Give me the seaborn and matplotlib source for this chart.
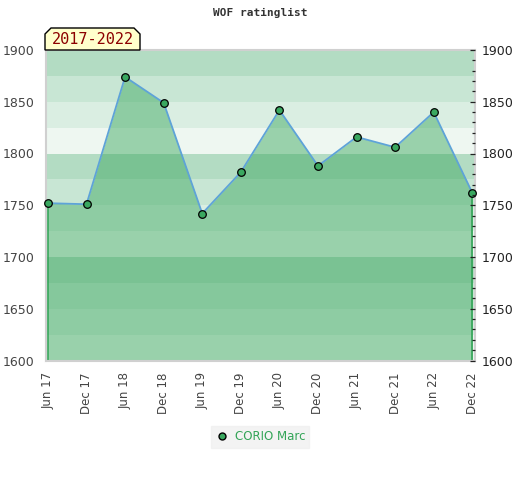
import matplotlib
matplotlib.use("Agg")
import matplotlib.pyplot as plt
import seaborn as sns
import pandas as pd
import numpy as np
from matplotlib.patches import Polygon
from matplotlib.lines import Line2D
from matplotlib.ticker import MultipleLocator

periods = ["Jun 17", "Dec 17", "Jun 18", "Dec 18", "Jun 19", "Dec 19",
           "Jun 20", "Dec 20", "Jun 21", "Dec 21", "Jun 22", "Dec 22"]
ratings = [1752, 1751, 1874, 1849, 1742, 1782, 1842, 1788, 1816, 1806, 1840, 1762]
player = "CORIO Marc"
title = "WOF ratinglist"
range_label = "2017-2022"

sns.set_theme(style="white")
plt.rcParams['font.family'] = ['DejaVu Sans']

df = pd.DataFrame({"idx": np.arange(len(periods)), "rating": ratings})

fig = plt.figure(figsize=(5.2, 4.8), dpi=100)
ax = fig.add_axes([46/520, 1 - 360.5/480, (475-46)/520, (360.5-50)/480])

band_colors = ["#b3dcc3", "#c8e6d4", "#daeee2", "#eef7f1"]
for i, lo in enumerate(range(1875, 1599, -25)):
    ax.axhspan(lo, lo + 25, color=band_colors[i % 4], lw=0, zorder=0)

ax.fill_between(df["idx"], df["rating"], 1600, color=(59/255, 167/255, 94/255),
                alpha=0.475, lw=0, zorder=1)
ax.vlines([df["idx"].iloc[0], df["idx"].iloc[-1]], 1600,
          [df["rating"].iloc[0], df["rating"].iloc[-1]], color="#33a457", lw=1.2, zorder=2)
sns.lineplot(data=df, x="idx", y="rating", ax=ax, color="#5ea3d8", lw=1.3, zorder=3,
             legend=False)
sns.scatterplot(data=df, x="idx", y="rating", ax=ax, color="#3aa860", edgecolor="black",
                linewidth=0.9, s=30, zorder=4, legend=False, clip_on=False)

ax.set_xlim(-0.05, len(periods) - 1 + 0.07)
ax.set_ylim(1600, 1900)
ax.set_xticks(df["idx"])
ax.set_xticklabels(periods, rotation=90, color="#444444", fontsize=8.5)
ax.set_yticks(range(1600, 1901, 50))
ax.tick_params(axis="y", labelsize=9, colors="#444444", length=0, pad=8)
ax.tick_params(axis="x", length=0, pad=8.5)
ax.set_xlabel("")
ax.set_ylabel("")
for s in ax.spines.values():
    s.set_color("#d0d0d0")
    s.set_linewidth(1.5)

ax2 = ax.twinx()
ax2.set_ylim(1600, 1900)
ax2.set_yticks(range(1600, 1901, 50))
ax2.yaxis.set_minor_locator(MultipleLocator(10))
ax2.tick_params(axis="y", which="major", direction="in", length=3.5, width=0.9,
                colors="#222222", labelsize=9, pad=5)
ax2.tick_params(axis="y", which="minor", direction="in", length=2.2, width=0.9, color="#222222")
for s in ax2.spines.values():
    s.set_visible(False)

fig.text(0.5, 1 - 13/480, title, ha="center", va="center", fontsize=8,
         family="DejaVu Sans Mono", fontweight="bold", color="#333333")

# range label box with chamfered top corners
x0, x1, y0, y1, c = 45, 140, 50, 28, 6
pts = [(x0, y0), (x0, y1 + c), (x0 + c, y1), (x1 - c, y1), (x1, y1 + c), (x1, y0)]
pts = [(px / 520, 1 - py / 480) for px, py in pts]
fig.patches.append(Polygon(pts, closed=True, transform=fig.transFigure,
                           facecolor="#ffffcc", edgecolor="black", lw=1, zorder=5))
fig.text((x0 + x1) / 2 / 520, 1 - 40 / 480, range_label, ha="center", va="center",
         fontsize=11, family="DejaVu Sans Mono", color="#8b0000", zorder=6)

handle = Line2D([], [], marker="o", ls="none", markerfacecolor="#3aa860",
                markeredgecolor="black", markersize=5)
leg = fig.legend([handle], [player], loc="center", bbox_to_anchor=(260/520, 1 - 437/480),
                 frameon=True, fontsize=8.5, handletextpad=0.5, borderpad=0.35,
                 handlelength=1.2)
leg.get_frame().set_facecolor("#f0f0f0")
leg.get_frame().set_edgecolor("#f0f0f0")
leg.get_frame().set_boxstyle("square", pad=0)
for t in leg.get_texts():
    t.set_color("#33a457")

fig.savefig("out.png", dpi=100)
